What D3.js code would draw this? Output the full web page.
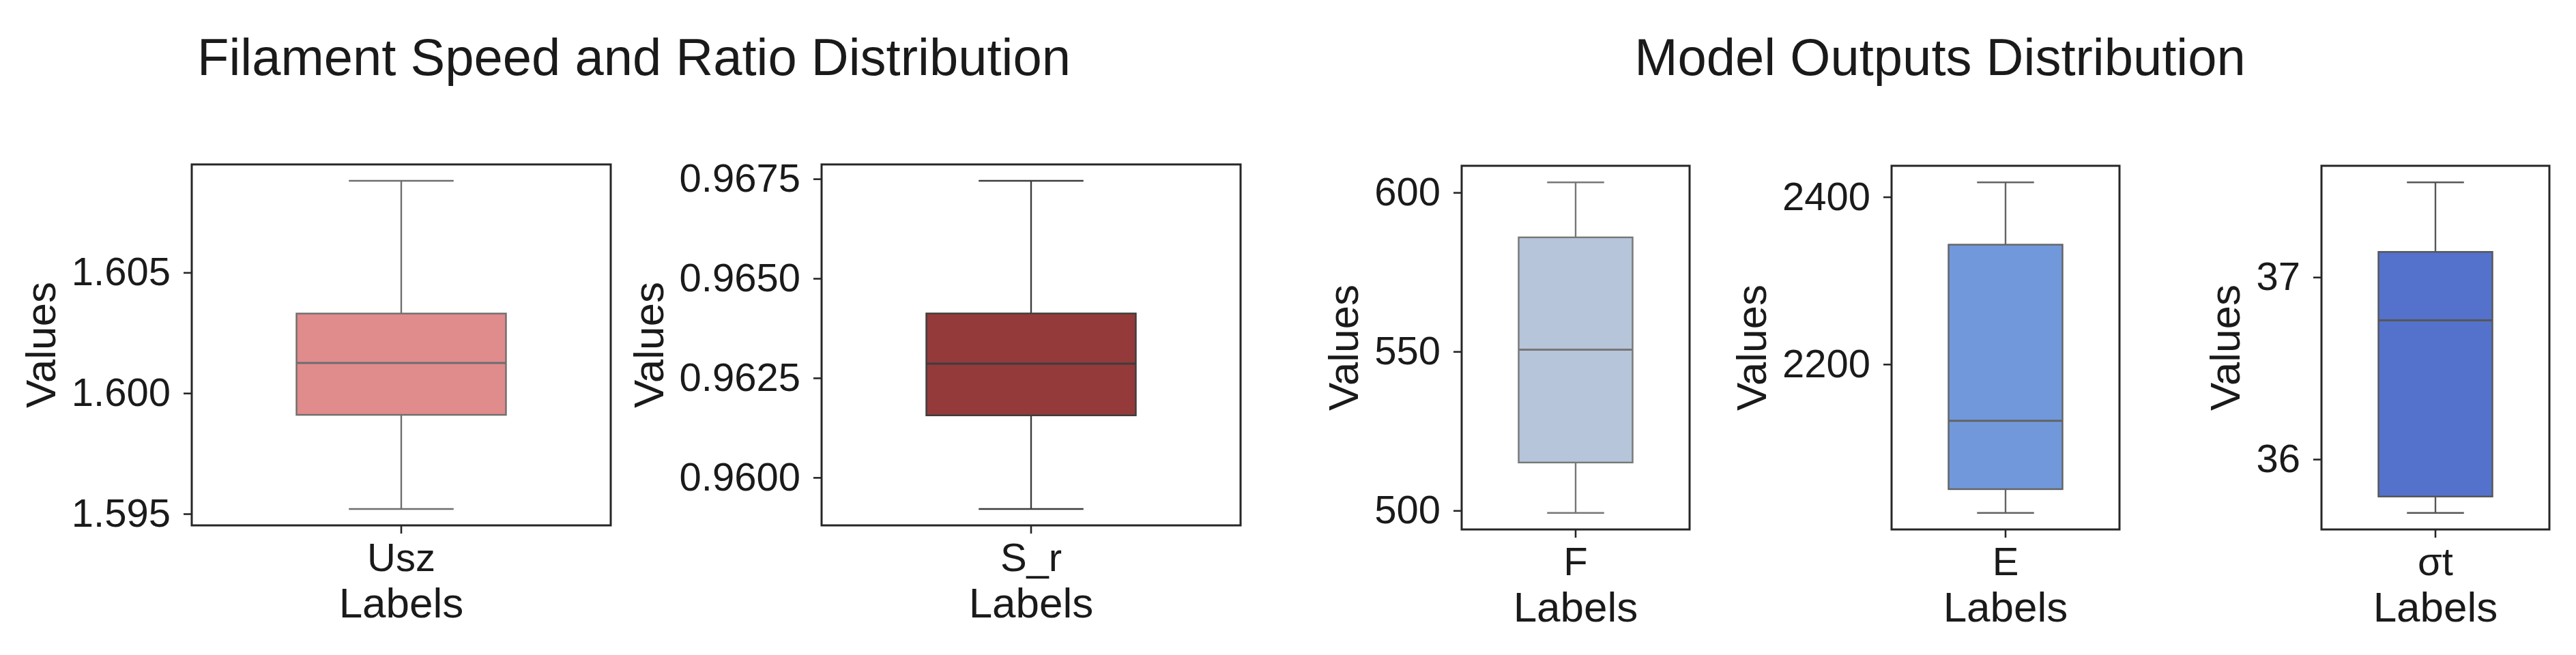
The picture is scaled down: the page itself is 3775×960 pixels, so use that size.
<!DOCTYPE html>
<html><head><meta charset="utf-8">
<script src="https://cdn.jsdelivr.net/npm/d3@7"></script>
<style>
body{margin:0;background:#fff;}
text{font-family:"Liberation Sans",Arial,sans-serif;fill:#1a1a1a;}
</style>
</head><body>
<svg id="c" width="3775" height="960"></svg>
<script>
// ---- data ----
const labels      = ["Usz", "S_r", "F", "E", "σt"];
const whiskerLow  = [1.5952, 0.95921, 499.25, 2022.2, 35.705];
const q1          = [1.5991, 0.96156, 515.1, 2050.6, 35.795];
const median      = [1.60125, 0.96286, 550.6, 2132.3, 36.763];
const q3          = [1.6033, 0.96412, 585.9, 2342.9, 37.139];
const whiskerHigh = [1.6088, 0.96745, 603.2, 2417.4, 37.521];
const yTickValues = [[1.595, 1.600, 1.605], [0.9600, 0.9625, 0.9650, 0.9675], [500, 550, 600], [2200, 2400], [36, 37]];
const yTickFormats = [".3f", ".4f", "d", "d", "d"];
const groupTitles = ["Filament Speed and Ratio Distribution", "Model Outputs Distribution"];
const yLabel = "Values";
const xLabel = "Labels";

// ---- layout / style ----
const frameLeft   = [281, 1204, 2142, 2772, 3402];
const frameWidth  = [614, 614, 334, 334, 334];
const frameTop    = [241, 241, 243, 243, 243];
const frameBottom = [770, 770, 776, 776, 776];
const fills       = ["#e08b8c", "#953a3a", "#b6c5d9", "#7198da", "#5472cc"];
const lineColors  = ["#6e6e6e", "#3d3d3d", "#777777", "#636363", "#565656"];
const titleX      = [929, 2843];
const titleY      = 110;

const svg = d3.select("#c");
svg.append("rect").attr("width", 3775).attr("height", 960).attr("fill", "#fff");

groupTitles.forEach((t, i) => {
  svg.append("text").attr("x", titleX[i]).attr("y", titleY)
    .attr("text-anchor", "middle").attr("font-size", 76).text(t);
});

labels.forEach((lab, i) => {
  const L = frameLeft[i], R = L + frameWidth[i], T = frameTop[i], B = frameBottom[i];
  const lo = whiskerLow[i], hi = whiskerHigh[i], m = (hi - lo) * 0.05;
  const y = d3.scaleLinear().domain([lo - m, hi + m]).range([B, T]);
  const x = d3.scaleBand().domain([lab]).range([L, R]).paddingInner(0).paddingOuter(0.5);
  const g = svg.append("g");
  const cx = x(lab) + x.bandwidth() / 2;
  const bw = x.bandwidth();
  const lc = lineColors[i];

  // whiskers
  g.append("line").attr("x1", cx).attr("x2", cx).attr("y1", y(q3[i])).attr("y2", y(hi))
    .attr("stroke", lc).attr("stroke-width", 2.4);
  g.append("line").attr("x1", cx).attr("x2", cx).attr("y1", y(q1[i])).attr("y2", y(lo))
    .attr("stroke", lc).attr("stroke-width", 2.4);
  // caps
  [hi, lo].forEach(v => {
    g.append("line").attr("x1", cx - bw / 4).attr("x2", cx + bw / 4).attr("y1", y(v)).attr("y2", y(v))
      .attr("stroke", lc).attr("stroke-width", 2.4);
  });
  // box
  g.append("rect").attr("x", x(lab)).attr("width", bw)
    .attr("y", y(q3[i])).attr("height", y(q1[i]) - y(q3[i]))
    .attr("fill", fills[i]).attr("stroke", lc).attr("stroke-width", 2.4);
  // median
  g.append("line").attr("x1", x(lab)).attr("x2", x(lab) + bw).attr("y1", y(median[i])).attr("y2", y(median[i]))
    .attr("stroke", lc).attr("stroke-width", 3);

  // frame
  g.append("rect").attr("x", L).attr("y", T).attr("width", R - L).attr("height", B - T)
    .attr("fill", "none").attr("stroke", "#262626").attr("stroke-width", 3);

  // y axis
  const ya = g.append("g").attr("transform", `translate(${L},0)`)
    .call(d3.axisLeft(y).tickValues(yTickValues[i]).tickFormat(d3.format(yTickFormats[i])).tickSize(12).tickPadding(19));
  ya.select(".domain").remove();
  ya.selectAll(".tick line").attr("stroke", "#262626").attr("stroke-width", 2.6);
  ya.selectAll(".tick text").attr("font-size", 58).attr("font-family", "Liberation Sans, Arial, sans-serif").attr("fill", "#1a1a1a");

  // x axis
  const xa = g.append("g").attr("transform", `translate(0,${B})`)
    .call(d3.axisBottom(x).tickSize(12).tickPadding(14));
  xa.select(".domain").remove();
  xa.selectAll(".tick line").attr("stroke", "#262626").attr("stroke-width", 2.6);
  xa.selectAll(".tick text").attr("font-size", 58).attr("font-family", "Liberation Sans, Arial, sans-serif").attr("fill", "#1a1a1a");

  // axis labels
  const bb = ya.node().getBBox();
  const lx = L + bb.x - 24;
  g.append("text").attr("transform", `translate(${lx},${(T + B) / 2}) rotate(-90)`)
    .attr("text-anchor", "middle").attr("font-size", 62).text(yLabel);
  g.append("text").attr("x", cx).attr("y", B + 135)
    .attr("text-anchor", "middle").attr("font-size", 62).text(xLabel);
});
</script>
</body></html>
